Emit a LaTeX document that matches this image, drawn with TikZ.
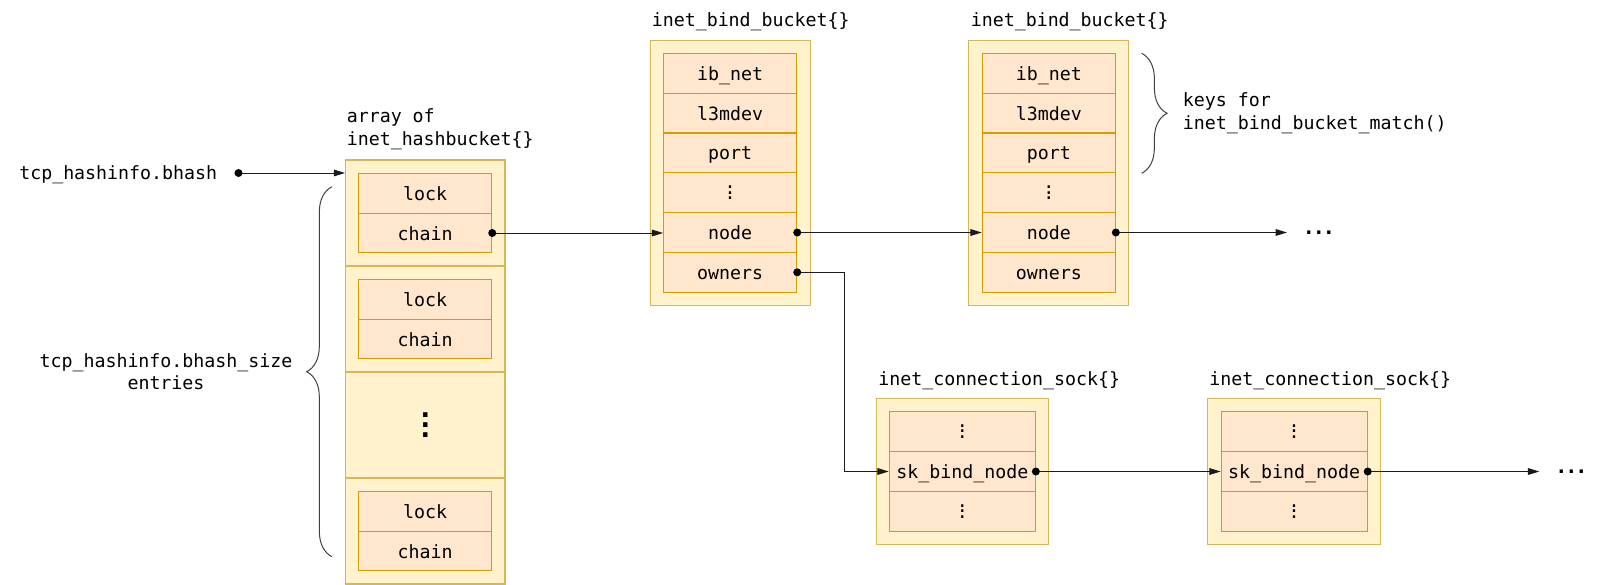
\documentclass[tikz,border=0pt]{standalone}
\usepackage{fontspec}
\setmonofont{DejaVu Sans Mono}
\usetikzlibrary{arrows.meta,decorations.pathreplacing,calc}
\definecolor{outerfill}{HTML}{FFF2CC}
\definecolor{outerdraw}{HTML}{D6B656}
\definecolor{innerfill}{HTML}{FFE6CC}
\definecolor{innerdraw}{HTML}{D79B00}
\definecolor{lineclr}{HTML}{1A1A1A}
\newcommand{\vd}{\vbox{\baselineskip=4.3pt\lineskiplimit=-20pt\hbox{.}\hbox{.}\hbox{.}}}
\newcommand{\bigvd}{\vbox{\fontsize{20}{20}\selectfont\bfseries\baselineskip=7.5pt\lineskiplimit=-20pt\hbox{.}\hbox{.}\hbox{.}}}
\newcommand{\tightdots}{.\kern-1.5pt.\kern-1.5pt.}
\tikzset{
  mono/.style={font=\fontsize{13.7}{16.8}\selectfont\ttfamily, text=black, inner sep=0pt},
  txt/.style={mono, text height=12.5pt, text depth=2pt},
  mtxt/.style={mono},
  outerbox/.style={draw=outerdraw, fill=outerfill, line width=0.8pt, inner sep=0pt},
  arrsec/.style={outerbox, minimum width=119.5pt, minimum height=79.5pt},
  bucketbox/.style={outerbox, minimum width=119.8pt, minimum height=198.5pt},
  sockbox/.style={outerbox, minimum width=129.5pt, minimum height=109.3pt},
  row/.style={txt, draw=innerdraw, fill=innerfill, line width=0.8pt, minimum width=99.75pt, minimum height=29.85pt},
  srow/.style={row, minimum width=109.5pt},
  conn/.style={draw=lineclr, line width=0.75pt, -{Triangle[length=8.5pt,width=5pt]}},
  dot/.style={circle, fill=black, inner sep=0pt, minimum size=6pt},
  bracestyle/.style={draw=black!75, line width=0.75pt, decorate, decoration={brace, amplitude=19pt}},
  ellip/.style={font=\fontsize{15}{15}\selectfont\ttfamily\bfseries, inner sep=0pt, anchor=base west}
}
\begin{document}
\begin{tikzpicture}[x=0.75pt,y=-0.75pt]
\useasboundingbox (0,0) rectangle (1600,585);

% ---------- array of inet_hashbucket ----------
\node[mtxt, align=left, anchor=west] (arrlbl) at (346.5,129.4) {\strut array of\\\strut inet\_hashbucket\{\}};
\node[arrsec] (sec1) at (425.3,213) {};
\node[arrsec] (sec2) at (425.3,319) {};
\node[arrsec] (sec3) at (425.3,425) {};
\node[arrsec] (sec4) at (425.3,531) {};
\node[row] (a1l) at (425.2,193.2) {lock};
\node[row] (a1c) at (425.2,233) {chain};
\node[row] (a2l) at (425.2,299.2) {lock};
\node[row] (a2c) at (425.2,339) {chain};
\node[mono] (amid) at (sec3) {\bigvd};
\node[row] (a4l) at (425.2,511.2) {lock};
\node[row] (a4c) at (425.2,551) {chain};

% ---------- left labels ----------
\node[txt, anchor=west] (bhash) at (19,172.5) {tcp\_hashinfo.bhash};
\node[mtxt, align=center] (sizelbl) at (166,374) {\strut tcp\_hashinfo.bhash\_size\\\strut entries};
\draw[bracestyle] (332,556.7) -- (332,186.7);

% ---------- inet_bind_bucket 1 ----------
\node[txt, anchor=west] (t1) at (651.5,19.8) {inet\_bind\_bucket\{\}};
\node[bucketbox] (b1) at (730.2,173) {};
\node[row] (b1r1) at (730.2,73.2) {ib\_net};
\node[row] (b1r2) at (730.2,113.1) {l3mdev};
\node[row] (b1r3) at (730.2,152.9) {port};
\node[row] (b1r4) at (730.2,192.7) {};
\node[mono] at (b1r4) {\vd};
\node[row] (b1r5) at (730.2,232.5) {node};
\node[row] (b1r6) at (730.2,272.3) {owners};

% ---------- inet_bind_bucket 2 ----------
\node[txt, anchor=west] (t2) at (970.5,19.8) {inet\_bind\_bucket\{\}};
\node[bucketbox] (b2) at (1048.7,173) {};
\node[row] (b2r1) at (1048.8,73.2) {ib\_net};
\node[row] (b2r2) at (1048.8,113.1) {l3mdev};
\node[row] (b2r3) at (1048.8,152.9) {port};
\node[row] (b2r4) at (1048.8,192.7) {};
\node[mono] at (b2r4) {\vd};
\node[row] (b2r5) at (1048.8,232.5) {node};
\node[row] (b2r6) at (1048.8,272.3) {owners};

\draw[bracestyle] (1141.7,53.3) -- (1141.7,173.3);
\node[mtxt, align=left, anchor=west] (keys) at (1182.5,113.5) {\strut keys for\\\strut inet\_bind\_bucket\_match()};

% ---------- inet_connection_sock 1 ----------
\node[txt, anchor=west] (t3) at (878,378) {inet\_connection\_sock\{\}};
\node[sockbox] (s1) at (962.5,471.2) {};
\node[srow] (s1r1) at (962.3,431.6) {};
\node[mono] at (s1r1) {\vd};
\node[srow] (s1r2) at (962.3,471.5) {sk\_bind\_node};
\node[srow] (s1r3) at (962.3,511.4) {};
\node[mono] at (s1r3) {\vd};

% ---------- inet_connection_sock 2 ----------
\node[txt, anchor=west] (t4) at (1209,378) {inet\_connection\_sock\{\}};
\node[sockbox] (s2) at (1294,471.2) {};
\node[srow] (s2r1) at (1294.2,431.6) {};
\node[mono] at (s2r1) {\vd};
\node[srow] (s2r2) at (1294.2,471.5) {sk\_bind\_node};
\node[srow] (s2r3) at (1294.2,511.4) {};
\node[mono] at (s2r3) {\vd};

% ---------- trailing ellipses ----------
\coordinate (end1) at (1287,232.5);
\node[ellip] (more1) at (1302.5,234.5) {\tightdots};
\coordinate (end2) at (1539.3,471.5);
\node[ellip] (more2) at (1555,473.5) {\tightdots};

% ---------- connectors ----------
\draw[conn] ($(bhash.east)+(21,0.5)$) node[dot]{} -- (sec1.west |- {0,173});
\draw[conn] (a1c.east) node[dot]{} -- (a1c.east -| b1r5.west);
\draw[conn] (b1r5.east) node[dot]{} -- (b2r5.west);
\draw[conn] (b2r5.east) node[dot]{} -- (end1);
\draw[conn] (b1r6.east) node[dot]{} -- ++(47,0) |- (s1r2.west);
\draw[conn] (s1r2.east) node[dot]{} -- (s2r2.west);
\draw[conn] (s2r2.east) node[dot]{} -- (end2);
\end{tikzpicture}
\end{document}
